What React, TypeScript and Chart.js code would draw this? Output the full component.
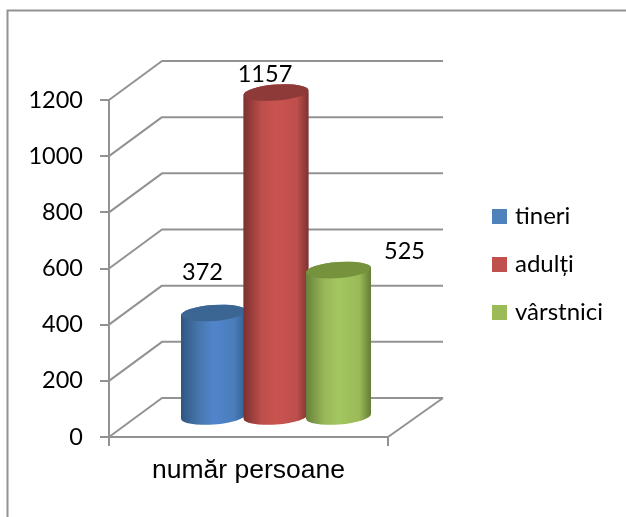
import React, { useEffect, useRef } from "react";
import { Chart, registerables } from "chart.js";

Chart.register(...registerables);

const categories = ["număr persoane"];
const seriesNames = ["tineri", "adulți", "vârstnici"];
const tineri = [372];
const adulti = [1157];
const varstnici = [525];
const yTicks = [0, 200, 400, 600, 800, 1000, 1200];

const flat = ["#4F81BD", "#C0504D", "#9BBB59"];
const caps = ["#3B6593", "#8E3A38", "#76923C"];
const ramps = [
  ["#2F5680", "#4877AE", "#5185CB", "#4A7DBB", "#335F8F"],
  ["#7C312F", "#BD4E4B", "#C9544F", "#BE4F4C", "#7E3331"],
  ["#68813A", "#98B757", "#A3C760", "#9ABA58", "#657C36"],
];
const labelOffsets = [[-11, -41], [-11, -18], [66, -19]];

const GRID = "#929292";
const FONT = "Lato";
const DEPTH_X = 53;
const DEPTH_Y = 39;
const BAR_DX = 27.5;
const BAR_DY = 19.5;
const RY = 8;
const TILT = 2.4;

function cylinderPath(ctx: CanvasRenderingContext2D, x: number, r: number, yt: number, yb: number) {
  const a = Math.atan2(-TILT, r);
  ctx.beginPath();
  ctx.moveTo(x - r, yt + TILT);
  ctx.lineTo(x + r, yt - TILT);
  ctx.lineTo(x + r, yb - TILT);
  ctx.lineTo(x - r, yb + TILT);
  ctx.closePath();
  ctx.moveTo(x + r, yb - TILT);
  ctx.ellipse(x, yb, r, RY, a, 0, Math.PI * 2);
  ctx.moveTo(x + r, yt - TILT);
  ctx.ellipse(x, yt, r, RY, a, 0, Math.PI * 2);
}

const scenePlugin = {
  id: "scene",
  afterLayout(chart: any) {
    const l = chart.legend;
    if (l) {
      l.left = 472;
      l.top = 180.5;
      l.right = 626;
      l.bottom = 360;
      l.width = l.right - l.left;
      l.height = l.bottom - l.top;
    }
  },
  beforeDraw(chart: any) {
    const ctx = chart.ctx;
    ctx.save();
    ctx.strokeStyle = GRID;
    ctx.lineWidth = 2;
    ctx.beginPath();
    ctx.moveTo(626, 10.5);
    ctx.lineTo(7.5, 10.5);
    ctx.lineTo(7.5, 517);
    ctx.stroke();
    ctx.restore();
  },
  beforeDatasetsDraw(chart: any) {
    const { ctx, chartArea: a, scales } = chart;
    ctx.save();
    ctx.strokeStyle = GRID;
    ctx.lineWidth = 2;
    ctx.lineJoin = "round";
    ctx.beginPath();
    yTicks.forEach((t) => {
      const y = scales.y.getPixelForValue(t);
      ctx.moveTo(a.left, y);
      ctx.lineTo(a.left + DEPTH_X, y - DEPTH_Y);
      ctx.lineTo(a.right + 55, y - DEPTH_Y);
    });
    const y0 = scales.y.getPixelForValue(0);
    ctx.moveTo(a.right + 55, y0 - DEPTH_Y);
    ctx.lineTo(a.right, y0);
    ctx.stroke();
    ctx.restore();

    // Cylinders are painted left to right so that each overlaps the previous one.
    chart.data.datasets.forEach((_: any, i: number) => {
      const meta = chart.getDatasetMeta(i);
      const bar = meta.data[0];
      const r = bar.width / 2;
      const grad = ctx.createLinearGradient(bar.x - r, 0, bar.x + r, 0);
      [0, 0.28, 0.5, 0.82, 1].forEach((s, k) => grad.addColorStop(s, ramps[i][k]));
      bar.options = { ...bar.options, backgroundColor: grad };
      ctx.save();
      ctx.translate(BAR_DX, -BAR_DY);
      cylinderPath(ctx, bar.x, r, bar.y, bar.base);
      ctx.fillStyle = grad;
      ctx.fill();
      ctx.save();
      ctx.clip();
      meta.controller.draw();
      ctx.restore();
      ctx.fillStyle = caps[i];
      ctx.beginPath();
      ctx.ellipse(bar.x, bar.y, r, RY, Math.atan2(-TILT, r), 0, Math.PI * 2);
      ctx.fill();
      ctx.restore();
    });

    ctx.save();
    ctx.fillStyle = "#000";
    ctx.font = `23.5px ${FONT}`;
    ctx.textAlign = "center";
    ctx.textBaseline = "middle";
    chart.data.datasets.forEach((ds: any, i: number) => {
      const bar = chart.getDatasetMeta(i).data[0];
      ctx.fillText(
        String(ds.data[0]),
        bar.x + BAR_DX + labelOffsets[i][0],
        bar.y - BAR_DY + labelOffsets[i][1]
      );
    });
    ctx.restore();
    return false;
  },
};

export default function App() {
  const ref = useRef<HTMLCanvasElement>(null);
  useEffect(() => {
    const series = [tineri, adulti, varstnici];
    const chart = new Chart(ref.current as HTMLCanvasElement, {
      type: "bar",
      plugins: [scenePlugin],
      data: {
        labels: categories,
        datasets: series.map((data, i) => ({
          label: seriesNames[i],
          data,
          clip: false,
          backgroundColor: flat[i],
          categoryPercentage: 0.672,
          barPercentage: 1.04,
        })),
      },
      options: {
        responsive: false,
        animation: false,
        layout: { padding: { left: 0, right: 238, top: 100, bottom: 0 } },
        plugins: {
          tooltip: { enabled: false },
          title: { display: false },
          legend: {
            display: true,
            position: "chartArea",
            align: "start",
            labels: {
              color: "#000",
              font: { family: FONT, size: 24 },
              boxWidth: 7,
              boxHeight: 7,
              padding: 24,
              generateLabels: () =>
                seriesNames.map((text, i) => ({
                  text,
                  fillStyle: flat[i],
                  strokeStyle: flat[i],
                  lineWidth: 8,
                  datasetIndex: i,
                })),
            },
          },
        },
        scales: {
          x: {
            afterFit: (s: any) => { s.height = 80; },
            grid: {
              display: true,
              offset: true,
              drawOnChartArea: false,
              tickLength: 9,
              color: GRID,
              lineWidth: 2,
            },
            border: { display: true, color: GRID, width: 2 },
            ticks: {
              color: "#000",
              padding: 9,
              font: { family: "Liberation Sans", size: 26.5 },
            },
          },
          y: {
            min: 0,
            max: 1200,
            afterFit: (s: any) => { s.width = 109; },
            grid: {
              display: true,
              drawOnChartArea: false,
              tickLength: 9,
              color: GRID,
              lineWidth: 2,
            },
            border: { display: true, color: GRID, width: 2 },
            ticks: {
              stepSize: 200,
              color: "#000",
              padding: 17,
              font: { family: FONT, size: 23.5 },
              callback: (v: any) => String(v),
            },
          },
        },
      },
    } as any);
    return () => chart.destroy();
  }, []);
  return (
    <div style={{ position: "absolute", left: 0, top: 0, width: 626, height: 517, background: "#fff" }}>
      <canvas ref={ref} width={626} height={517} style={{ display: "block" }} />
    </div>
  );
}
